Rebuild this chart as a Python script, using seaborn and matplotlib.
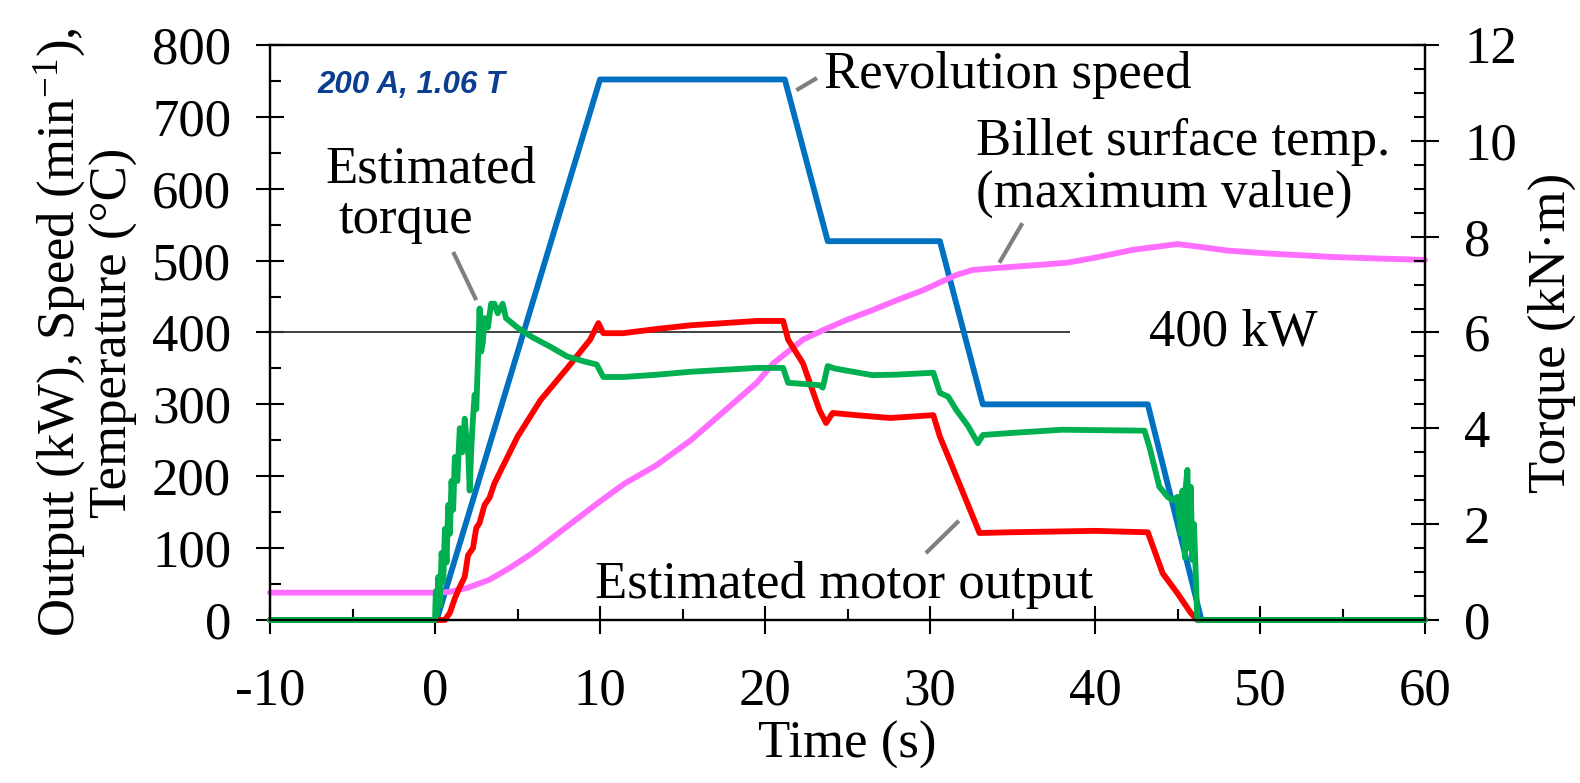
import matplotlib
matplotlib.use("Agg")
import matplotlib.pyplot as plt
from matplotlib.ticker import MultipleLocator
import seaborn as sns

# --- Values ---
# Revolution speed (min-1), left axis
speed_t = [-10, 0.1, 10.0, 21.2, 23.8, 30.6, 33.2, 43.2, 46.45, 60]
speed_v = [0, 0, 752, 752, 527, 527, 300, 300, 0, 0]

# Estimated motor output (kW), left axis: (time, value)
output_pts = [
    (-10, 0), (0.6, 0), (0.9, 10), (1.2, 30), (1.5, 46), (1.8, 60), (2.0, 90),
    (2.3, 100), (2.5, 128), (2.7, 135), (3.0, 160), (3.3, 170), (3.6, 190),
    (3.9, 204), (5.0, 255), (6.4, 306), (8.0, 350), (9.4, 390), (9.9, 413),
    (10.2, 399), (11.4, 399), (13.5, 405), (15.5, 410), (17.5, 413), (19.5, 416),
    (21.1, 416), (21.4, 390), (22.3, 357), (23.3, 292), (23.7, 274), (24.1, 288),
    (25.5, 285), (27.6, 281), (30.2, 285), (30.6, 255), (31.2, 222), (33.0, 121),
    (34.8, 122), (40.0, 124), (43.2, 122), (44.1, 65), (45.0, 37), (45.8, 10),
    (46.2, 0), (60, 0),
]

# Billet surface temperature, maximum value (deg C), left axis
temp_pts = [
    (-10, 38), (0, 38), (0.9, 39), (2.0, 45), (3.3, 56), (4.5, 72), (5.9, 93),
    (8.0, 130), (10.0, 165), (11.5, 190), (13.4, 215), (15.5, 250), (17.5, 290),
    (19.5, 330), (20.5, 357), (22.3, 390), (23.5, 403), (25.0, 418), (26.5, 431),
    (28.0, 445), (29.6, 459), (31.6, 480), (32.6, 487), (34.2, 490), (36.0, 493),
    (38.3, 497), (40.0, 504), (42.3, 515), (44.0, 520), (45.0, 523), (46.4, 519),
    (48.0, 514), (50.4, 510), (54.4, 505), (57.0, 503), (60, 501),
]

# Estimated torque (kN*m), right axis
torque_pts = [
    (-10, 0), (0.0, 0), (0.05, 0.6), (0.1, 0.1), (0.2, 0.9), (0.3, 0.3),
    (0.4, 1.4), (0.5, 0.8), (0.6, 1.9), (0.7, 1.2), (0.8, 2.4), (0.9, 1.8),
    (1.0, 2.9), (1.1, 2.3), (1.2, 3.4), (1.35, 2.9), (1.5, 4.0), (1.65, 3.5),
    (1.8, 4.2), (1.9, 3.8), (2.0, 3.6), (2.1, 2.7), (2.2, 3.6), (2.3, 4.2),
    (2.4, 4.7), (2.5, 4.4), (2.6, 5.4), (2.7, 6.5), (2.8, 5.6), (2.9, 5.8),
    (3.0, 6.3), (3.2, 6.1), (3.4, 6.6), (3.6, 6.6), (3.8, 6.4), (4.1, 6.6),
    (4.3, 6.3), (5.0, 6.1), (5.9, 5.9), (7.0, 5.7), (8.0, 5.5), (9.0, 5.4),
    (9.8, 5.33), (10.2, 5.07), (11.4, 5.07), (13.5, 5.12), (15.5, 5.18),
    (17.5, 5.22), (19.5, 5.26), (21.1, 5.26), (21.4, 4.95), (23.3, 4.9),
    (23.5, 4.85), (23.8, 5.3), (24.2, 5.25), (25.0, 5.2), (26.5, 5.11),
    (28.0, 5.12), (30.2, 5.16), (30.6, 4.74), (31.1, 4.66), (31.6, 4.38),
    (32.3, 4.05), (32.9, 3.69), (33.2, 3.86), (34.8, 3.9), (38.0, 3.97),
    (43.0, 3.95), (43.3, 3.61), (43.9, 2.78), (44.4, 2.57), (44.7, 2.5),
    (45.0, 2.57), (45.2, 1.8), (45.3, 2.7), (45.45, 1.3), (45.5, 2.78),
    (45.6, 3.13), (45.7, 1.5), (45.8, 2.78), (45.9, 1.25), (46.0, 2.0),
    (46.2, 0), (60, 0),
]

# Annotations: text, x, y (data units of the left axis)
ref_level = 400
ref_line_end = 38.5
labels = [
    ("Revolution speed", 23.6, 740),
    ("Billet surface temp.", 32.8, 647),
    ("(maximum value)", 32.8, 575),
    ("Estimated motor output", 9.7, 31),
]
# leader lines: ((x0, y0), (x1, y1))
leaders = [
    ((21.9, 737), (23.15, 754)),
    ((34.2, 497), (35.6, 552)),
    ((1.1, 512), (2.5, 445)),
    ((29.75, 93), (31.75, 138)),
]

BLUE = "#0070C0"
RED = "#FF0000"
GREEN = "#00B050"
PINK = "#FF6EFF"
GREY = "#808080"

sns.set_style("ticks")
plt.rcParams['font.family'] = ['Liberation Serif', 'DejaVu Serif']
plt.rcParams['mathtext.fontset'] = 'custom'
plt.rcParams['mathtext.rm'] = 'Liberation Serif'
plt.rcParams['mathtext.it'] = 'Liberation Serif:italic'
plt.rcParams['axes.unicode_minus'] = False
for key in ('text.color', 'axes.labelcolor', 'xtick.color', 'ytick.color',
            'axes.edgecolor'):
    plt.rcParams[key] = 'black'

fig = plt.figure(figsize=(15.8, 7.83), dpi=100)
ax = fig.add_axes([0.1709, 0.2082, 0.7310, 0.7344])
ax2 = ax.twinx()

lw = 4.2
sns.lineplot(x=speed_t, y=speed_v, ax=ax, color=BLUE, linewidth=lw,
             estimator=None, sort=False)
sns.lineplot(x=[p[0] for p in temp_pts], y=[p[1] for p in temp_pts], ax=ax,
             color=PINK, linewidth=lw, estimator=None, sort=False)
sns.lineplot(x=[p[0] for p in output_pts], y=[p[1] for p in output_pts], ax=ax,
             color=RED, linewidth=lw, estimator=None, sort=False)
sns.lineplot(x=[p[0] for p in torque_pts], y=[p[1] for p in torque_pts], ax=ax2,
             color=GREEN, linewidth=lw, estimator=None, sort=False)
for line in ax.lines + ax2.lines:
    line.set_clip_on(False)

# 400 kW reference line
ax.hlines(ref_level, -10, ref_line_end, color="#333333", linewidth=1.3, zorder=1)
ax.text(43.3, ref_level, "400 kW", fontsize=38, va="center", ha="left")

for (x0, y0), (x1, y1) in leaders:
    ax.plot([x0, x1], [y0, y1], color=GREY, linewidth=3, solid_capstyle="butt")

for txt, x, y in labels:
    ax.text(x, y, txt, fontsize=38, ha="left", va="baseline")
ax.text(-0.27, 609, "Estimated", fontsize=38, ha="center", va="baseline")
ax.text(-1.79, 538, "torque", fontsize=38, ha="center", va="baseline")

ax.text(-7.15, 733, "200 A, 1.06 T", fontsize=22.5, ha="left", va="baseline",
        family=["Liberation Sans", "DejaVu Sans"], style="italic",
        weight="bold", color="#0B3D91")

# --- Axes, limits, ticks ---
ax.set_xlim(-10, 60)
ax.set_ylim(0, 800)
ax2.set_ylim(0, 12)

ax.xaxis.set_major_locator(MultipleLocator(10))
ax.xaxis.set_minor_locator(MultipleLocator(5))
ax.yaxis.set_major_locator(MultipleLocator(100))
ax.yaxis.set_minor_locator(MultipleLocator(50))
ax2.yaxis.set_major_locator(MultipleLocator(2))
ax2.yaxis.set_minor_locator(MultipleLocator(0.5))

for a in (ax, ax2):
    a.tick_params(which="major", direction="inout", length=20, width=1.5,
                  labelsize=38, color="black", labelcolor="black")
    a.tick_params(which="minor", direction="in", length=8, width=1.5,
                  color="black")
    for s in a.spines.values():
        s.set_linewidth(1.6)
        s.set_color("black")
        s.set_visible(True)
ax.tick_params(axis="x", which="both", top=False)
ax.tick_params(axis="x", which="major", pad=24)
ax.tick_params(axis="y", which="both", right=False)
ax.tick_params(axis="y", which="major", pad=18)
ax2.tick_params(axis="y", which="major", pad=18)

ax.set_xlabel("Time (s)", fontsize=38, labelpad=4)
ax.set_ylabel("Output (kW), Speed (min$^{-1}$),\nTemperature (°C)",
              fontsize=38, labelpad=10, linespacing=1.05)
ax2.set_ylabel("Torque (kN·m)", fontsize=38, labelpad=8)

fig.savefig("out.png", dpi=100)
